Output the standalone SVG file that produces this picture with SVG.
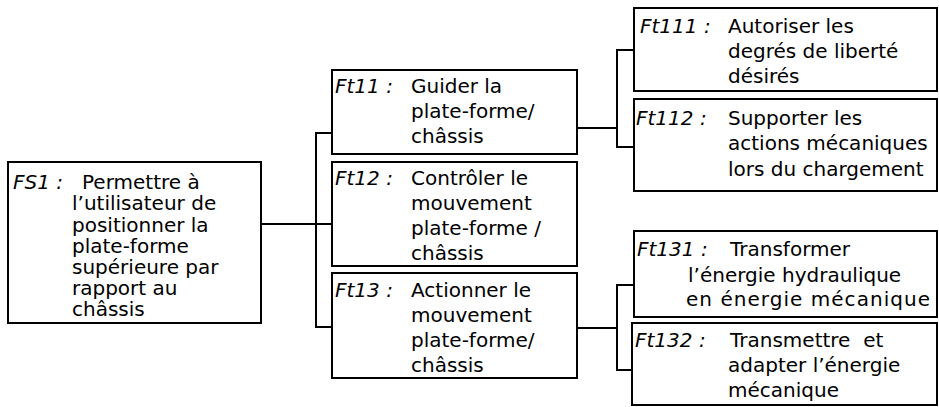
<svg xmlns="http://www.w3.org/2000/svg" width="939" height="407" viewBox="0 0 939 407">
  <style>
    .box { fill: #ffffff; stroke: #000000; stroke-width: 2; }
    .wire { fill: none; stroke: #000000; stroke-width: 2; }
    text { font-family: "DejaVu Sans", Verdana, "Liberation Sans", sans-serif; font-size: 20px; fill: #000000; white-space: pre; }
    .lbl { font-style: italic; }
  </style>
  <rect width="939" height="407" fill="#ffffff"/>

  <!-- connectors -->
  <g id="connectors">
    <polyline class="wire" points="261,224 332,224"/>
    <polyline class="wire" points="332,133 316,133 316,327 332,327"/>
    <polyline class="wire" points="577,128 617,128"/>
    <polyline class="wire" points="634,50 617,50 617,147 634,147"/>
    <polyline class="wire" points="577,328 617,328"/>
    <polyline class="wire" points="634,285 617,285 617,370 634,370"/>
  </g>

  <!-- main function -->
  <g id="FS1">
    <rect class="box" x="8" y="162" width="253" height="161"/>
    <text x="13" y="189"><tspan class="lbl">FS1 :</tspan><tspan x="82">Permettre à</tspan></text>
    <text x="72" y="210">l’utilisateur de</text>
    <text x="72" y="232">positionner la</text>
    <text x="72" y="253">plate-forme</text>
    <text x="72" y="274">supérieure par</text>
    <text x="72" y="295">rapport au</text>
    <text x="72" y="316">châssis</text>
  </g>

  <!-- technical functions, level 1 -->
  <g id="Ft11">
    <rect class="box" x="332" y="70" width="245" height="84"/>
    <text x="335" y="93"><tspan class="lbl">Ft11 :</tspan><tspan x="411">Guider la</tspan></text>
    <text x="411" y="118">plate-forme/</text>
    <text x="411" y="143">châssis</text>
  </g>
  <g id="Ft12">
    <rect class="box" x="332" y="162" width="245" height="104"/>
    <text x="335" y="185"><tspan class="lbl">Ft12 :</tspan><tspan x="411">Contrôler le</tspan></text>
    <text x="411" y="210">mouvement</text>
    <text x="411" y="235">plate-forme /</text>
    <text x="411" y="260">châssis</text>
  </g>
  <g id="Ft13">
    <rect class="box" x="332" y="273" width="245" height="105"/>
    <text x="335" y="297"><tspan class="lbl">Ft13 :</tspan><tspan x="411">Actionner le</tspan></text>
    <text x="411" y="322">mouvement</text>
    <text x="411" y="347">plate-forme/</text>
    <text x="411" y="372">châssis</text>
  </g>

  <!-- technical functions, level 2 -->
  <g id="Ft111">
    <rect class="box" x="634" y="8" width="303" height="83"/>
    <text x="640" y="33"><tspan class="lbl">Ft111 :</tspan><tspan x="728">Autoriser les</tspan></text>
    <text x="728" y="58">degrés de liberté</text>
    <text x="728" y="83">désirés</text>
  </g>
  <g id="Ft112">
    <rect class="box" x="634" y="99" width="303" height="92"/>
    <text x="636" y="125"><tspan class="lbl">Ft112 :</tspan><tspan x="728">Supporter les</tspan></text>
    <text x="728" y="150">actions mécaniques</text>
    <text x="728" y="176">lors du chargement</text>
  </g>
  <g id="Ft131">
    <rect class="box" x="634" y="231" width="303" height="86"/>
    <text x="637" y="256"><tspan class="lbl">Ft131 :</tspan><tspan x="730">Transformer</tspan></text>
    <text x="688" y="282">l’énergie hydraulique</text>
    <text x="686" y="306" textLength="244" lengthAdjust="spacing">en énergie mécanique</text>
  </g>
  <g id="Ft132">
    <rect class="box" x="632" y="323" width="305" height="82"/>
    <text x="635" y="347"><tspan class="lbl">Ft132 :</tspan><tspan x="730">Transmettre  et</tspan></text>
    <text x="728" y="372">adapter l’énergie</text>
    <text x="728" y="397">mécanique</text>
  </g>
</svg>
